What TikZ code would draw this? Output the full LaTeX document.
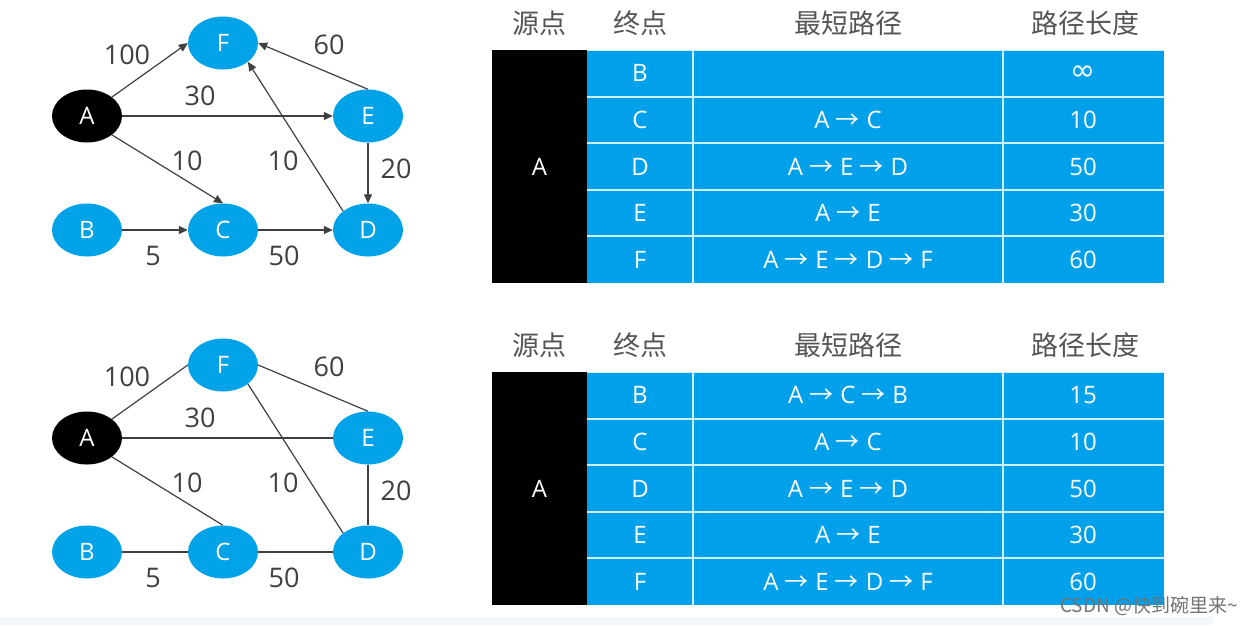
\documentclass[tikz,border=0pt]{standalone}
\usepackage{fontspec}
\setmainfont{Open Sans}
\newfontfamily\cjk{Noto Sans CJK SC}
\newfontfamily\arrfont{DejaVu Sans}
\usetikzlibrary{shapes.geometric,arrows.meta}
\definecolor{nodeblue}{HTML}{00A2E8}
\definecolor{tblue}{HTML}{00A0EA}
\definecolor{lbl}{HTML}{404040}
\definecolor{hdr}{HTML}{555555}
\definecolor{gridline}{HTML}{CDEFFD}
\definecolor{band}{HTML}{F3F6FB}
\newcommand{\ar}{\hspace{6pt}{\cjk →}\hspace{7pt}}

% graph: #1 prefix, #2 edge style
\newcommand{\drawgraph}[2]{%
  \node[src] (#1A) at (87,116) {A};
  \node[vtx] (#1F) at (223,43) {F};
  \node[vtx] (#1E) at (368,116) {E};
  \node[vtx] (#1B) at (87,230) {B};
  \node[vtx] (#1C) at (223,230) {C};
  \node[vtx] (#1D) at (368,230) {D};
  \draw[#2] (#1A.north east) -- (#1F.west);
  \draw[#2] (#1A.east) -- (#1E.west);
  \draw[#2] (#1A.south east) -- (#1C.north);
  \draw[#2] (#1E.north) -- (#1F.east);
  \draw[#2] (#1D.north west) -- (#1F.south east);
  \draw[#2] (#1E.south) -- (#1D.north);
  \draw[#2] (#1B.east) -- (#1C.west);
  \draw[#2] (#1C.east) -- (#1D.west);
  \node[wt] (#1wAF) at (127,55) {100};
  \node[wt] (#1wAE) at (200,96) {30};
  \node[wt] (#1wAC) at (187,161) {10};
  \node[wt] (#1wDF) at (283,161) {10};
  \node[wt] (#1wEF) at (329,45) {60};
  \node[wt] (#1wED) at (396,169) {20};
  \node[wt] (#1wBC) at (153,256) {5};
  \node[wt] (#1wCD) at (284,256) {50};
}

% table: #1 prefix, #2 B path, #3 B length
\newcommand{\drawtable}[3]{%
  \node[hd] (#1h1) at (539,23) {源点};
  \node[hd] (#1h2) at (640,23) {终点};
  \node[hd] (#1h3) at (848,23) {最短路径};
  \node[hd] (#1h4) at (1085,23) {路径长度};
  \fill[black] (492,50) rectangle (587,283);
  \fill[tblue] (587,50) rectangle (1164,283);
  \draw[gridline, line width=1pt] (587,50) -- (1164,50);
  \foreach \yy in {96.6,143.2,189.8,236.4}
    \draw[gridline, line width=2pt] (587,\yy) -- (1164,\yy);
  \foreach \xx in {693,1003}
    \draw[gridline, line width=2pt] (\xx,50) -- (\xx,283);
  \node[cell] (#1src) at (539.5,166.5) {A};
  \node[cell] (#1eB) at (640,73.3) {B};
  \node[cell] (#1eC) at (640,119.9) {C};
  \node[cell] (#1eD) at (640,166.5) {D};
  \node[cell] (#1eE) at (640,213.1) {E};
  \node[cell] (#1eF) at (640,259.7) {F};
  \node[cell] (#1pB) at (848,73.3) {#2};
  \node[cell] (#1pC) at (848,119.9) {A\ar C};
  \node[cell] (#1pD) at (848,166.5) {A\ar E\ar D};
  \node[cell] (#1pE) at (848,213.1) {A\ar E};
  \node[cell] (#1pF) at (848,259.7) {A\ar E\ar D\ar F};
  \node[cell] (#1lB) at (1083,73.3) {#3};
  \node[cell] (#1lC) at (1083,119.9) {10};
  \node[cell] (#1lD) at (1083,166.5) {50};
  \node[cell] (#1lE) at (1083,213.1) {30};
  \node[cell] (#1lF) at (1083,259.7) {60};
}

\begin{document}
\begin{tikzpicture}[x=1pt,y=-1pt,
  vtx/.style={ellipse, fill=nodeblue, minimum width=70pt, minimum height=53pt,
    inner sep=0pt, text=white, font=\fontsize{24}{26}\selectfont},
  src/.style={vtx, fill=black},
  edgeline/.style={draw=lbl, line width=1.2pt},
  arc/.style={edgeline, -{Triangle[length=9pt,width=8pt]}},
  wt/.style={text=lbl, font=\fontsize{27}{30}\selectfont, inner sep=0pt},
  hd/.style={text=hdr, font=\cjk\fontsize{27}{30}\selectfont, inner sep=0pt},
  cell/.style={text=white, font=\fontsize{24}{26}\selectfont, inner sep=0pt}]
\useasboundingbox (0,0) rectangle (1256,625);
\fill[white] (0,0) rectangle (1256,625);
\fill[band] (0,617) rectangle (1213,625);

\drawgraph{t}{arc}
\drawtable{t}{}{{\arrfont\fontsize{30}{30}\selectfont ∞}}

\begin{scope}[yshift=-322pt]
\drawgraph{b}{edgeline}
\drawtable{b}{A\ar C\ar B}{15}
\end{scope}

\node[text=black!55, font=\cjk\fontsize{19}{21}\selectfont, inner sep=0pt] (wm) at (1149,606) {CSDN @快到碗里来\char`~};
\end{tikzpicture}
\end{document}
